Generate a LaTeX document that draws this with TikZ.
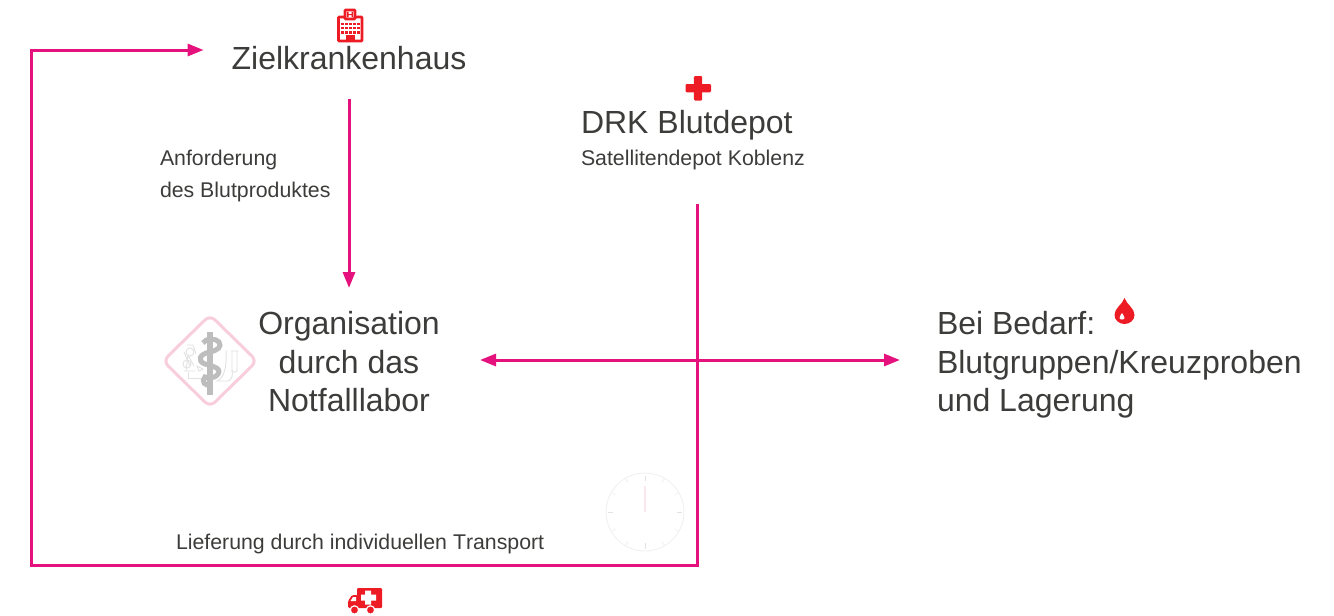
\documentclass[tikz,border=0pt]{standalone}
\usepackage{fontspec}
\setmainfont[Kerning=Off]{Liberation Sans}
\usetikzlibrary{arrows.meta}
\definecolor{mag}{HTML}{E5127D}
\definecolor{ired}{HTML}{ED1C24}
\definecolor{txt}{HTML}{3C3C3B}
\definecolor{dpink}{HTML}{F9CEDC}
\definecolor{dgray}{HTML}{BDBDBD}
\definecolor{lgray}{HTML}{E2E2E2}
\definecolor{cgray}{HTML}{F0F0F0}
\tikzset{
  flow/.style={draw=mag,line width=3pt,line join=miter},
  tip/.style={-{Triangle[length=16pt,width=12pt]}},
  tiptwo/.style={{Triangle[length=16pt,width=12pt]}-{Triangle[length=16pt,width=12pt]}},
  big/.style={font=\fontsize{32}{38.5}\selectfont,text=txt,inner sep=0pt,outer sep=0pt},
  small/.style={font=\fontsize{21.3}{32}\selectfont,text=txt,inner sep=0pt,outer sep=0pt}
}
\begin{document}
\begin{tikzpicture}[x=1pt,y=-1pt]
\useasboundingbox (0,0) rectangle (1334,616);
% hospital icon
\draw[ired,line width=2.8pt,fill=white,rounded corners=.8pt] (338.5,17) rectangle (362,41);
\draw[ired,line width=2.8pt,fill=white,rounded corners=.8pt] (345,10) rectangle (355,19);
\fill[ired] (346.9,11.8) rectangle (348.5,17.4) (351.5,11.8) rectangle (353.1,17.4) (346.9,14) rectangle (353.1,15.2);
\foreach \yy in {24,28.2,32.4}\foreach \xx in {342.5,346.5,350.5,354.5,358.5}{\fill[ired] (\xx-1.1,\yy-1.1) rectangle (\xx+1.1,\yy+1.1);}
\fill[ired] (345.5,35) rectangle (354.5,41);
% cross icon
\fill[ired,rounded corners=1.2pt] (693.8,76) rectangle (702.2,100.5);
\fill[ired,rounded corners=1.2pt] (685.5,84) rectangle (711,92.4);
% drop icon
\fill[ired] (1124.5,298) .. controls (1122,305) and (1114.5,308) .. (1114.5,315) .. controls (1114.5,320) and (1119,324) .. (1124.5,324) .. controls (1130,324) and (1134.5,320) .. (1134.5,315) .. controls (1134.5,308) and (1127,305) .. (1124.5,298) -- cycle;
\fill[white] (1122,313) .. controls (1121,315) and (1119.5,316) .. (1119.5,318) .. controls (1119.5,320) and (1124.5,320) .. (1124.5,318) .. controls (1124.5,316) and (1123,315) .. (1122,313) -- cycle;
% ambulance icon
\fill[ired,rounded corners=1pt] (357,588) rectangle (382,608);
\fill[ired,rounded corners=1.5pt] (348,608) -- (348,601) -- (352,595) -- (358,595) -- (358,608) -- cycle;
\fill[white] (350.5,601) -- (353,597) -- (356,597) -- (356,601) -- cycle;
\fill[white] (365,590.5) rectangle (371,604.5) (361,594.5) rectangle (376,600.5);
\fill[ired,draw=white,line width=1.2pt] (354.5,610) circle (4.2);
\fill[ired,draw=white,line width=1.2pt] (370.5,610) circle (4.2);
% lab diamond icon
\draw[dpink,line width=3pt,rounded corners=7pt,fill=white] (210,315) -- (257,361) -- (210,407) -- (163,361) -- cycle;
\draw[lgray,line width=.9pt] (184,371) -- (195,371) (186,371) -- (188,355) (188,355) -- (194,366) (190,366) -- (184,352) (187,345) -- (193,345) -- (196,354);
\draw[lgray,line width=.9pt] (190,352) circle (4);
\draw[lgray,line width=.9pt] (187,364) circle (4);
\draw[lgray,line width=.9pt] (188,372) -- (188,378) -- (203,378);
\draw[lgray,line width=.9pt] (226,350) .. controls (227,368) and (224,378) .. (217,381) -- (228,381) .. controls (232,380) and (233,375) .. (232,370);
\draw[lgray,line width=.9pt] (232,351) -- (232,370) .. controls (232,373) and (237,373) .. (237,370) -- (237,351) (231,351) -- (238,351);
\draw[lgray,line width=.9pt] (197,366) -- (203,369) -- (199,371) -- cycle;
\fill[dgray] (207.4,332) rectangle (213,395);
\draw[dgray,line width=5pt] (203,343) .. controls (205,338) and (216,338) .. (219,342) .. controls (222,347) and (218,350) .. (210,352) .. controls (199,354) and (197,361) .. (205,364) .. controls (212,366) and (222,368) .. (218,374) .. controls (214,380) and (205,377) .. (205,377) .. controls (201,381) and (205,387) .. (210,384);
% clock
\draw[cgray,line width=.9pt] (645,512) circle (39);
\foreach \a in {30,60,120,150,210,240,300,330}{\draw[cgray,line width=.8pt] (645,512)++(\a:34) -- ++(\a:4);}
\draw[lgray,line width=.9pt] (645,476) -- (645,481) (645,543) -- (645,549) (608,512) -- (613,512) (677,512) -- (682,512);
\draw[dpink!50!white,line width=1.2pt] (645,486) -- (645,512);
% text nodes
\node[big,anchor=base,text height=68pt,text depth=30pt,inner xsep=28pt] (ziel) at (349,69) {Zielkrankenhaus};
\node[anchor=south,inner sep=0pt,outer sep=0pt,text width=232pt,align=left,text=txt] (depot) at (697,204)
 {\spaceskip=0pt {\fontsize{32}{38.5}\selectfont DRK Blutdepot\par}{\fontsize{21.3}{32}\selectfont Satellitendepot Koblenz\rule[-39pt]{0pt}{0pt}\par}};
\node[small,anchor=base west,align=left] (anf) at (160,197) {\spaceskip=0pt Anforderung\\des Blutproduktes};
\node[big,align=center,minimum width=262pt,minimum height=144pt] (labor) at (349,360) {\spaceskip=0pt \rule{0pt}{27pt}Organisation\\durch das\\Notfalllabor};
\node[big,align=left,anchor=west,inner xsep=37pt,minimum height=144pt] (bedarf) at (900,360) {\spaceskip=0pt \rule{0pt}{33pt}Bei Bedarf:\\Blutgruppen/Kreuzproben\\und Lagerung};
\node[small,anchor=base west] (lief) at (176,549) {Lieferung durch individuellen Transport};
% connectors
\coordinate (corner) at (31,565);
\draw[flow,tip] (ziel.south) -- (labor.north);
\draw[flow,tiptwo] (labor.east) -- (bedarf.west);
\draw[flow,tip] (depot.south) |- (corner) |- (ziel.west);
\end{tikzpicture}
\end{document}
